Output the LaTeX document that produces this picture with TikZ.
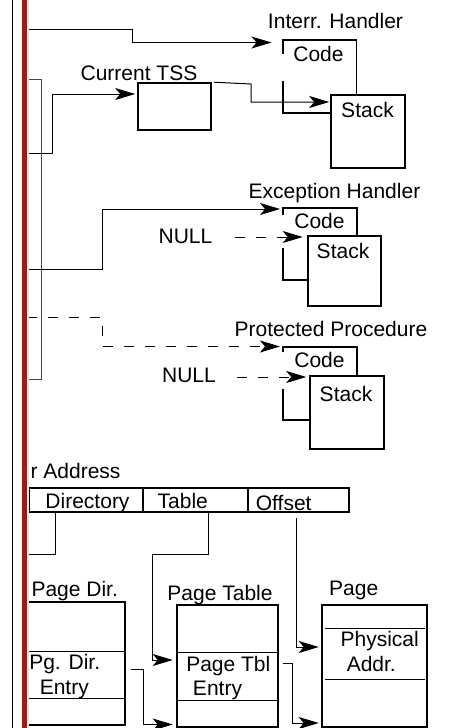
\documentclass[tikz,border=0pt]{standalone}
\usepackage{fontspec}
\setmainfont{Liberation Sans}
\usetikzlibrary{arrows.meta}
\definecolor{barred}{RGB}{158,28,16}
\definecolor{bargray}{RGB}{70,70,70}
\begin{document}
\begin{tikzpicture}[x=1pt,y=-1pt,
  conn/.style={line width=1pt},
  arr/.style={conn,-{Stealth[length=20pt,width=12pt,inset=5pt]}},
  darr/.style={arr,dash pattern=on 10pt off 11pt},
  box/.style={draw,line width=1.6pt,inner sep=0pt},
  part/.style={line width=1.6pt},
  divl/.style={line width=1pt},
  lbl/.style={inner sep=0pt,anchor=base,font=\fontsize{21}{24}\selectfont}]
\useasboundingbox (0,0) rectangle (457,728);

% ---------- boxes ----------
\node[box,minimum width=73pt,minimum height=47pt] (tss) at (174.5,106.5) {};
\node[box,minimum width=74pt,minimum height=73pt] (stackA) at (368,131.5) {};
\node[box,minimum width=73pt,minimum height=70pt] (stackB) at (344.5,271) {};
\node[box,minimum width=74pt,minimum height=73pt] (stackC) at (347,412.5) {};
\node[box,minimum width=324pt,minimum height=24pt] (addr) at (187,500) {};
\node[box,minimum width=100pt,minimum height=123pt] (pdir) at (75,663.5) {};
\node[box,minimum width=101pt,minimum height=122pt] (ptab) at (227.5,666) {};
\node[box,minimum width=105pt,minimum height=122pt] (page) at (374.5,666) {};

% code boxes (open shapes)
\draw[part] (283,54) -- (283,40) -- (356.5,40) -- (356.5,95);
\draw[part] (283,81) -- (283,113) -- (stackA.west |- 0,113);
\draw[part] (283,215) -- (283,208) -- (357,208) -- (357,236);
\draw[part] (283,248) -- (283,280) -- (stackB.west |- 0,280);
\draw[part] (283,352) -- (283,347) -- (357,347) -- (357,376);
\draw[part] (283,389) -- (283,420) -- (stackC.west |- 0,420);

% address bar dividers
\draw[part] (29,488) -- (29,512);
\draw[part] (143,488) -- (143,512);
\draw[part] (248,488) -- (248,512);

% table dividers
\draw[divl] (25,651) -- (125,651);
\draw[divl] (25,698) -- (125,698);
\draw[divl] (177,652) -- (278,652);
\draw[divl] (177,700) -- (278,700);
\draw[divl] (325,628) -- (425,628);
\draw[divl] (325,679) -- (425,679);

% ---------- labels ----------
\node[lbl] (tIH) at (335.5,28.5) {Interr. Handler};
\node[lbl] (tCT) at (139,80) {Current TSS};
\node[lbl] (tC1) at (318.5,61.7) {Code};
\node[lbl] (tS1) at (367.5,117.3) {Stack};
\node[lbl] (tEH) at (334.5,198.3) {Exception Handler};
\node[lbl] (tC2) at (319.5,228.3) {Code};
\node[lbl] (tS2) at (343,258.3) {Stack};
\node[lbl] (tN1) at (185.5,243.3) {NULL};
\node[lbl] (tPP) at (331,336.7) {Protected Procedure};
\node[lbl] (tC3) at (319.5,367.3) {Code};
\node[lbl] (tN2) at (189,382.3) {NULL};
\node[lbl] (tS3) at (346,401.7) {Stack};
\node[lbl,anchor=base east] (tLA) at (120.7,478.3) {r Address};
\node[lbl] (tDir) at (87.5,508.3) {Directory};
\node[lbl] (tTab) at (182.8,508.3) {Table};
\node[lbl] (tOff) at (283.7,510) {Offset};
\node[lbl] (tPD) at (74.7,596) {Page Dir.};
\node[lbl] (tPT) at (220,600) {Page Table};
\node[lbl] (tPg) at (353.7,595.5) {Page};
\node[lbl] (tPDE1) at (64.7,669) {Pg. Dir.};
\node[lbl] (tPDE2) at (64.3,694.5) {Entry};
\node[lbl] (tPTE1) at (228.3,671.7) {Page Tbl};
\node[lbl] (tPTE2) at (217.5,695) {Entry};
\node[lbl] (tPh1) at (379.7,646.7) {Physical};
\node[lbl] (tPh2) at (371.3,671.7) {Addr.};

% ---------- connector end points ----------
\coordinate (s1) at (27,29);
\coordinate (s2) at (27,153);
\coordinate (s4) at (27,269);
\coordinate (s6) at (27,317);
\coordinate (e1) at (271.5,42.5);
\coordinate (n1) at (235,237);
\coordinate (n2) at (237,377);
\coordinate (dirE) at (27,554);

% ---------- connectors ----------
\draw[arr] (s1) -- (132,29) -- (132,42.5) -- (e1);
\draw[arr] (s2) -- (52,153) -- (52,94) -- ([xshift=-2pt]tss.west |- 0,94);
\draw[arr] ([xshift=2pt]tss.north east) -- (251,84) -- (251,102) -- ([xshift=-1pt]stackA.west |- 0,102);
\draw[arr] (s4) -- (102,269) -- (102,209) -- (280,209);
\draw[darr] (n1) -- ([xshift=-4.5pt]stackB.west |- 0,237);
\draw[darr] (s6) -- (102,317) -- (102,346.5) -- (280,346.5);
\draw[darr] (n2) -- ([xshift=-3pt]stackC.west |- 0,377);
\draw[conn] (55,513) -- (55,554) -- (dirE);
\draw[arr] (208,513) -- (208,554) -- (152,554) -- (152,660) -- ([xshift=-3.5pt]ptab.west |- 0,660);
\draw[arr] (296,518) -- (296,647) -- ([xshift=-2.5pt]page.west |- 0,647);
\draw[arr] ([xshift=5pt]pdir.east |- 0,669) -- (143,669) -- (143,724.5) -- ([xshift=-3.5pt]ptab.west |- 0,724.5);
\draw[arr] ([xshift=4pt]ptab.east |- 0,663) -- (292,663) -- (292,723) -- ([xshift=-2.5pt]page.west |- 0,723);

% ---------- left bracket and bars ----------
\draw[bargray,line width=0.9pt] (27,79) -- (41,79) -- (41,379) -- (27,379);
\draw[line width=1.3pt] (12.7,0) -- (12.7,728);
\draw[black!12,line width=2.5pt] (28,0) -- (28,728);
\draw[barred,line width=4.7pt] (24.3,0) -- (24.3,728);
\end{tikzpicture}
\end{document}
